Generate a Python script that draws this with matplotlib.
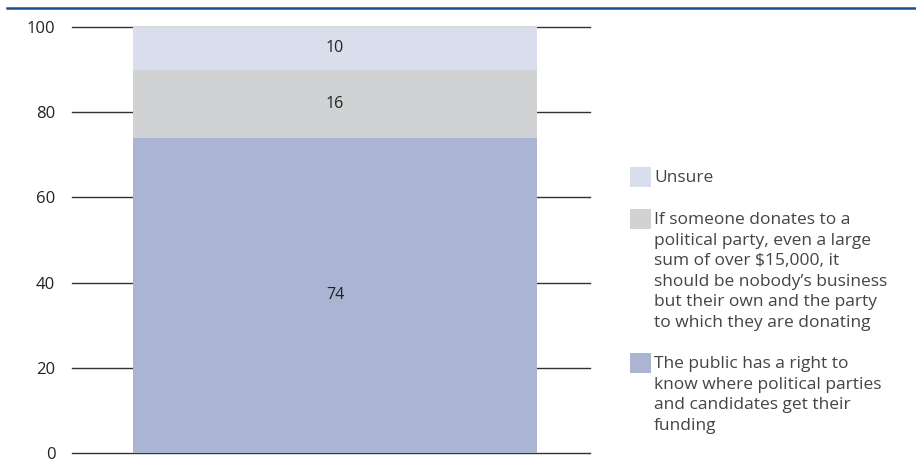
import matplotlib
matplotlib.use("Agg")
import matplotlib.pyplot as plt
from matplotlib.patches import Rectangle
from matplotlib.lines import Line2D

plt.rcParams["font.family"] = ["Open Sans", "DejaVu Sans"]

# stacked shares, bottom to top
categories = [
    "The public has a right to\nknow where political parties\nand candidates get their\nfunding",
    "If someone donates to a\npolitical party, even a large\nsum of over $15,000, it\nshould be nobody\u2019s business\nbut their own and the party\nto which they are donating",
    "Unsure",
]
values = [74, 16, 10]
colors = ["#abb5d3", "#d1d2d4", "#d9deec"]
yticks = [0, 20, 40, 60, 80, 100]

fig = plt.figure(figsize=(9.16, 4.63), dpi=100)
W, H = 916, 463

# axes box spans the gridline extent
ax = fig.add_axes([72 / W, (H - 453) / H, (590 - 72) / W, (453 - 27) / H])
ax.set_ylim(0, 100)
ax.set_xlim(-0.5078, 0.4923)

for y in yticks:
    ax.axhline(y, color="#333333", lw=1.0, zorder=0, clip_on=False)

bottom = 0
for v, c in zip(values, colors):
    ax.bar(0, v, width=0.78, bottom=bottom, color=c, zorder=2, linewidth=0,
           clip_on=False)
    ax.text(0, bottom + v / 2, f"{v}", ha="center", va="center",
            fontsize=11.5, color="#222222", zorder=3)
    bottom += v

ax.set_yticks(yticks)
ax.set_yticklabels([str(t) for t in yticks], fontsize=12, color="#222222")
ax.tick_params(axis="y", length=0, pad=12)
ax.set_xticks([])
for s in ax.spines.values():
    s.set_visible(False)

# rule under the (cropped) heading
fig.add_artist(Line2D([7 / W, 1], [(H - 8) / H] * 2, color="#1f4e8c", lw=1.8))

# hand-placed legend, top entry first
legend_tops = [167, 209, 353]
for lab, c, top in zip(categories[::-1], colors[::-1], legend_tops):
    fig.add_artist(Rectangle((630 / W, (H - top - 20) / H), 21 / W, 20 / H,
                             facecolor=c, edgecolor="none",
                             transform=fig.transFigure))
    fig.text(654 / W, (H - top - 3) / H, lab, ha="left", va="top",
             fontsize=12.5, color="#444444", linespacing=1.38)

fig.savefig("out.png", dpi=100)
